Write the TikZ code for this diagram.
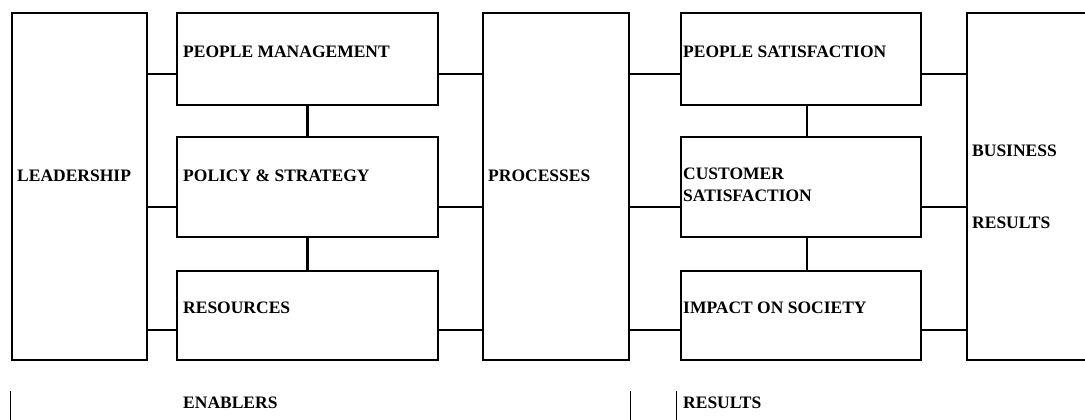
\documentclass[tikz,border=0pt]{standalone}
\usepackage{fontspec}
\setmainfont{Liberation Serif}
\usetikzlibrary{positioning}
\tikzset{blk/.style={draw,line width=2.6pt,inner sep=0pt},link/.style={line width=2.6pt},tick/.style={line width=1.2pt},lbl/.style={anchor=west,inner sep=0pt,text height=12pt,text depth=0pt,font=\bfseries\fontsize{17.5}{22}\selectfont}}

\begin{document}
\begin{tikzpicture}[x=1pt,y=-1pt]
        \clip(0,0)rectangle(1085,420);
        % enablers
        \node[blk,minimum width=135,minimum height=347](lead)at(79.5,186.5){};
        \node[blk,minimum width=261,minimum height=92](pm)at(307.5,59){};
        \node[blk,minimum width=261,minimum height=100](pol)at(307.5,187){};
        \node[blk,minimum width=261,minimum height=89](res)at(307.5,315.5){};
        \node[blk,minimum width=146,minimum height=347](proc)at(556,186.5){};
        % results
        \node[blk,minimum width=240,minimum height=92](ps)at(801,59){};
        \node[blk,minimum width=240,minimum height=100](cs)at(801,187){};
        \node[blk,minimum width=240,minimum height=89](soc)at(801,315.5){};
        \node[blk,minimum width=133,minimum height=347](bus)at(1033.5,186.5){};
        % connector levels
        \coordinate(r1)at(0,74);
        \coordinate(r2)at(0,207);
        \coordinate(r3)at(0,330);
        \foreach \r/\a/\b in {r1/lead/pm,r2/lead/pol,r3/lead/res,r1/pm/proc,r2/pol/proc,r3/res/proc,r1/proc/ps,r2/proc/cs,r3/proc/soc,r1/ps/bus,r2/cs/bus,r3/soc/bus}
          \draw[link](\a.east|-\r)--(\b.west|-\r);
        \draw[link](pm.south)--(pol.north);
        \draw[link](pol.south)--(res.north);
        \draw[link]([xshift=6pt]ps.south)--([xshift=6pt]cs.north);
        \draw[link]([xshift=6pt]cs.south)--([xshift=6pt]soc.north);
        % labels
        \node[lbl](tlead)at(17,175){LEADERSHIP};
        \node[lbl](tpm)at(183,52){PEOPLE MANAGEMENT};
        \node[lbl](tpol)at(183,175){POLICY \& STRATEGY};
        \node[lbl](tres)at(183,307){RESOURCES};
        \node[lbl](tproc)at(488,175){PROCESSES};
        \node[lbl](tps)at(683,52){PEOPLE SATISFACTION};
        \node[lbl](tcs1)at(683,173){CUSTOMER};
        \node[lbl](tcs2)at(683,195){SATISFACTION};
        \node[lbl](tsoc)at(683,307){IMPACT ON SOCIETY};
        \node[lbl](tbus1)at(972,150){BUSINESS};
        \node[lbl](tbus2)at(972,222){RESULTS};
        % bottom captions
        \draw[tick](lead.south west)++(0,30)--++(0,30);
        \draw[tick](proc.south east)++(0,30)--++(0,30);
        \draw[tick]([xshift=-3pt]soc.south west)++(0,30)--++(0,30);
        \node[lbl](tena)at(183,402){ENABLERS};
        \node[lbl](tresl)at(683,402){RESULTS};
\end{tikzpicture}
\end{document}
